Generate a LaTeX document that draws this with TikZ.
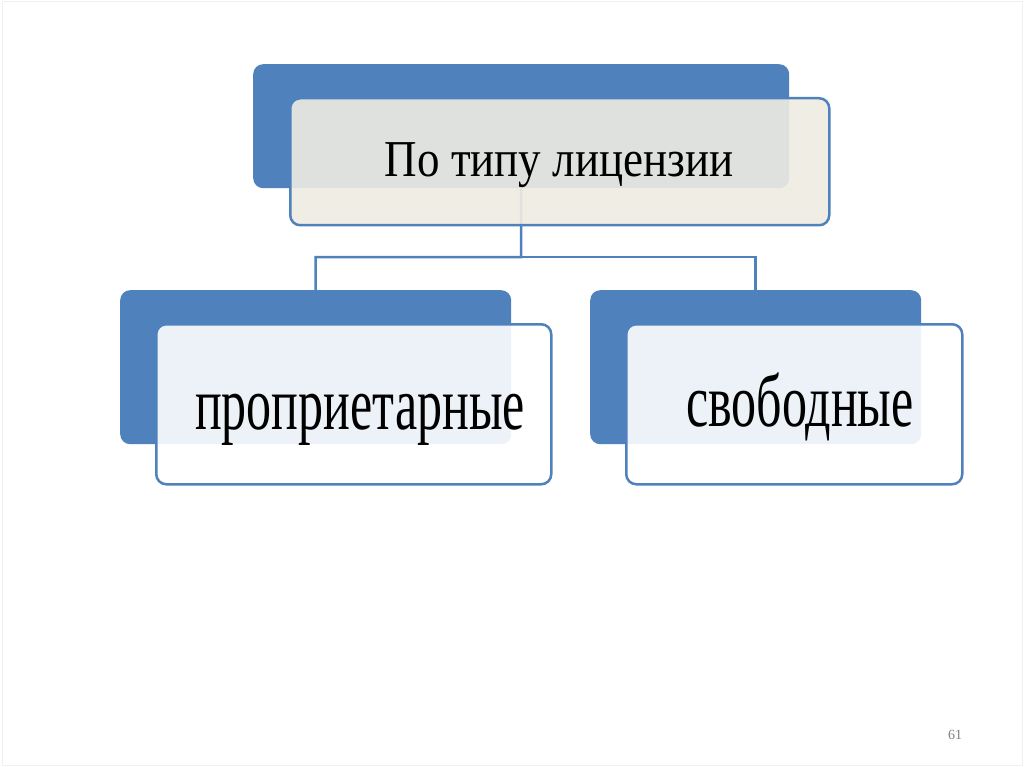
\documentclass[tikz,border=0pt]{standalone}
\usepackage{fontspec}
\usepackage{graphicx}
\setmainfont{Liberation Serif}
\usetikzlibrary{positioning}
\definecolor{accentblue}{HTML}{4F81BD}
\definecolor{paperbeige}{HTML}{EEECE1}
\tikzset{
  backbox/.style={fill=accentblue, rounded corners=10pt, anchor=north west, inner sep=0pt},
  frontbox/.style={draw=accentblue, line width=2.5pt, rounded corners=10pt, fill opacity=0.9,
    anchor=north west, inner sep=0pt},
  boxlabel/.style={anchor=base, inner sep=0pt},
  link/.style={draw=accentblue, line width=2.5pt}
}
\begin{document}
\begin{tikzpicture}[x=1pt, y=-1pt]
  \useasboundingbox (0,0) rectangle (1024,767);
  % slide frame
  \draw[black!6, line width=1pt] (2,2) rectangle (1022,765);

  % back boxes
  \node[backbox, minimum width=536pt, minimum height=124pt] (topback) at (253,64) {};
  \node[backbox, minimum width=391pt, minimum height=154pt] (leftback) at (120,290) {};
  \node[backbox, minimum width=331pt, minimum height=154pt] (rightback) at (590,290) {};

  % connectors
  \coordinate (split) at (521,257);
  \draw[link] (topback.south) -- (split) -| (leftback.north);
  \draw[link] (split) -| (rightback.north);

  % front boxes
  \node[frontbox, fill=paperbeige, minimum width=539pt, minimum height=127pt] (topfront) at (289,97) {};
  \node[frontbox, fill=white, minimum width=395pt, minimum height=160pt] (leftfront) at (155,323) {};
  \node[frontbox, fill=white, minimum width=336pt, minimum height=160pt] (rightfront) at (625,323) {};

  % labels
  \node[boxlabel, font=\fontsize{45}{50}\selectfont] (toplabel) at (559,177)
    {\scalebox{1}[1.15]{По типу лицензии}};
  \node[boxlabel, font=\fontsize{50}{56}\selectfont] (leftlabel) at (360,429)
    {\scalebox{1}[1.5]{проприетарные}};
  \node[boxlabel, font=\fontsize{50}{56}\selectfont] (rightlabel) at (800,426)
    {\scalebox{1}[1.5]{свободные}};

  % page number
  \node[text=black!50, font=\fontsize{14}{16}\selectfont] (pagenum) at (955,735) {61};
\end{tikzpicture}
\end{document}
